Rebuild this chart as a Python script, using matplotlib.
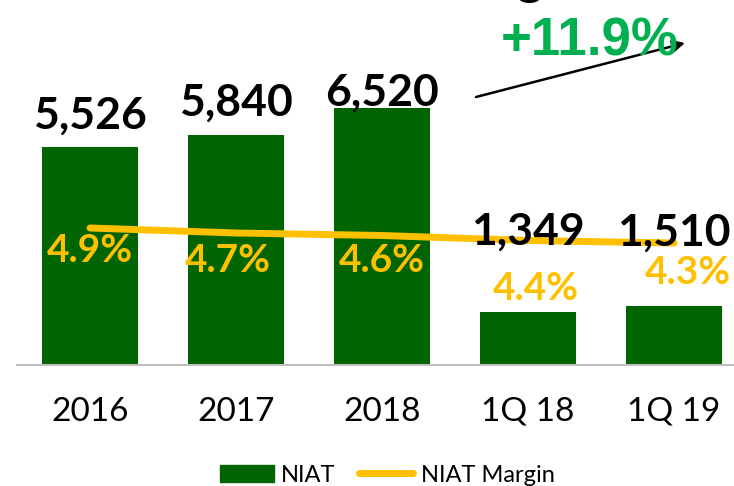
import matplotlib
matplotlib.use("Agg")
import matplotlib.pyplot as plt
from matplotlib.patches import Patch
from matplotlib.lines import Line2D

periods = ["2016", "2017", "2018", "1Q 18", "1Q 19"]
niat = [5526, 5840, 6520, 1349, 1510]
margin = [4.9, 4.7, 4.6, 4.4, 4.3]
niat_labels = ["5,526", "5,840", "6,520", "1,349", "1,510"]
margin_labels = ["4.9%", "4.7%", "4.6%", "4.4%", "4.3%"]
growth_label = "+11.9%"

GREEN = "#006400"
GOLD = "#FFC000"
BRIGHT = "#00B050"

W, H = 734, 486
fig = plt.figure(figsize=(W / 100, H / 100), dpi=100)
ax = fig.add_axes([17 / W, 1 - 365 / H, 1 - 17 / W, 365 / H])
ax2 = ax.twinx()

x = list(range(len(periods)))
ax.bar(x, niat, width=0.66, color=GREEN, zorder=2)
ax.set_xlim(-0.5, 4.41)
ax.set_ylim(0, 9264)

ax2.plot(x, margin, color=GOLD, lw=5, solid_capstyle="round", zorder=3)
ax2.set_ylim(-0.58, 14.02)

for a in (ax, ax2):
    for s in ("top", "right", "left"):
        a.spines[s].set_visible(False)
    a.set_yticks([])
ax2.spines["bottom"].set_visible(False)
ax.spines["bottom"].set_color("#BFBFBF")
ax.spines["bottom"].set_linewidth(1.5)

ax.set_xticks(x)
ax.set_xticklabels(periods, fontsize=24, family="Lato")
ax.tick_params(axis="x", length=0, pad=23)

# bar values (pixel offsets of label centre above bar top)
bar_off = [32, 32, 15, 80, 73]
for i, (v, lab) in enumerate(zip(niat, niat_labels)):
    ax2.annotate(lab, xy=(i, v), xycoords=ax.transData,
                 xytext=(0, bar_off[i]), textcoords="offset pixels",
                 ha="center", va="center", fontsize=32, fontweight="bold",
                 family="Lato", color="black", zorder=5)

# margin values (offsets of label centre below the line)
m_off = [(0, -22), (-8, -28), (0, -25), (8, -48), (14, -29)]
for i, (v, lab) in enumerate(zip(margin, margin_labels)):
    ax2.annotate(lab, xy=(i, v), xytext=m_off[i], textcoords="offset pixels",
                 ha="center", va="center", fontsize=28, fontweight="bold",
                 family="Lato", color=GOLD, zorder=5)

# growth annotation
fig.text(590 / W, 1 - 41 / H, growth_label, ha="center", va="center",
         fontsize=38, fontweight="bold", family="Liberation Sans", color=BRIGHT)
fig.text(530 / W, 1 + 8 / H, "g", ha="center", va="baseline",
         fontsize=38, fontweight="bold", family="Liberation Sans", color="black")
ax.annotate("", xy=(685 / W, 1 - 43 / H), xycoords="figure fraction",
            xytext=(476 / W, 1 - 97 / H), textcoords="figure fraction",
            arrowprops=dict(arrowstyle="-|>", color="black", lw=1.8,
                            mutation_scale=18, shrinkA=0, shrinkB=0))

# legend
handles = [Patch(color=GREEN), Line2D([], [], color=GOLD, lw=5, solid_capstyle="round")]
fig.legend(handles, ["NIAT", "NIAT Margin"], loc="center",
           bbox_to_anchor=(387 / W, 1 - 475 / H), ncol=2, frameon=False,
           prop={"family": "Lato", "size": 17}, handlelength=2.3,
           handleheight=0.7, handletextpad=0.3, columnspacing=1.0)

fig.savefig("out.png", dpi=100)
